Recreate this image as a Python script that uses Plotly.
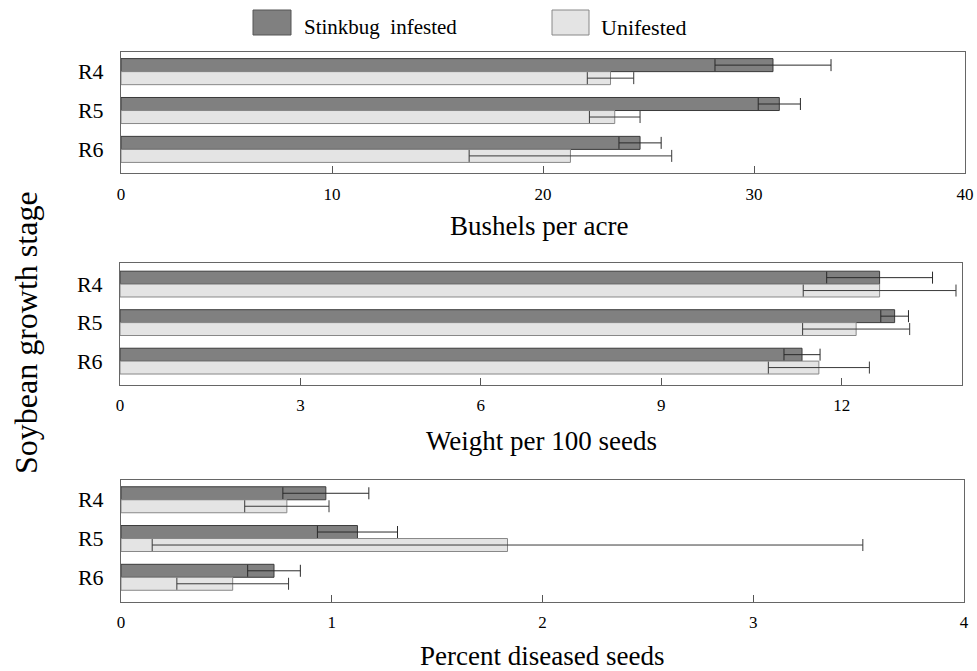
import plotly.graph_objects as go

stages = ["R4", "R5", "R6"]
series_names = ["Stinkbug  infested", "Unifested"]

bushels_infested = [30.9, 31.2, 24.6]
bushels_infested_err = [2.75, 1.0, 1.0]
bushels_uninfested = [23.2, 23.4, 21.3]
bushels_uninfested_err = [1.1, 1.2, 4.8]

weight_infested = [12.63, 12.88, 11.34]
weight_infested_err = [0.88, 0.23, 0.3]
weight_uninfested = [12.63, 12.24, 11.62]
weight_uninfested_err = [1.27, 0.89, 0.84]

diseased_infested = [0.972, 1.122, 0.726]
diseased_infested_err = [0.204, 0.19, 0.125]
diseased_uninfested = [0.787, 1.834, 0.53]
diseased_uninfested_err = [0.2, 1.686, 0.265]

panel_titles = ["Bushels per acre", "Weight per 100 seeds", "Percent diseased seeds"]
panel_ranges = [[0, 40], [0, 14], [0, 4]]
panel_ticks = [[0, 10, 20, 30, 40], [0, 3, 6, 9, 12], [0, 1, 2, 3, 4]]

DARK = "#808080"
LIGHT = "#e4e4e4"
FONT = "Liberation Serif"

panels = [
    (bushels_infested, bushels_infested_err, bushels_uninfested, bushels_uninfested_err),
    (weight_infested, weight_infested_err, weight_uninfested, weight_uninfested_err),
    (diseased_infested, diseased_infested_err, diseased_uninfested, diseased_uninfested_err),
]

W, H = 977, 671
x_doms = [[121 / W, 965 / W], [120 / W, 962 / W], [121 / W, 964 / W]]
y_doms = [
    [1 - 173.3 / H, 1 - 51.7 / H],
    [1 - 385.0 / H, 1 - 263.3 / H],
    [1 - 601.7 / H, 1 - 480.0 / H],
]
y_ranges = [[2.615, -0.513], [2.62, -0.54], [2.63, -0.51]]
title_y = [226, 441, 656]
title_x = [539, 541, 542]

fig = go.Figure()
for i, (inf, inf_err, uninf, uninf_err) in enumerate(panels):
    xa = "x" if i == 0 else f"x{i+1}"
    ya = "y" if i == 0 else f"y{i+1}"
    fig.add_trace(go.Bar(
        y=stages, x=inf, orientation="h", name=series_names[0],
        marker=dict(color=DARK, line=dict(color="#3a3a3a", width=1)),
        error_x=dict(type="data", array=inf_err, color="#2a2a2a", thickness=1, width=6),
        xaxis=xa, yaxis=ya, showlegend=False, offsetgroup="a",
    ))
    fig.add_trace(go.Bar(
        y=stages, x=uninf, orientation="h", name=series_names[1],
        marker=dict(color=LIGHT, line=dict(color="#888888", width=1)),
        error_x=dict(type="data", array=uninf_err, color="#3a3a3a", thickness=1, width=6),
        xaxis=xa, yaxis=ya, showlegend=False, offsetgroup="b",
    ))

layout = dict(
    width=W, height=H,
    margin=dict(l=0, r=0, t=0, b=0, autoexpand=False),
    paper_bgcolor="white", plot_bgcolor="white",
    barmode="group", bargap=0.33, bargroupgap=0,
    showlegend=False,
    font=dict(family=FONT, color="black"),
)
for i in range(3):
    xk = "xaxis" if i == 0 else f"xaxis{i+1}"
    yk = "yaxis" if i == 0 else f"yaxis{i+1}"
    ya = "y" if i == 0 else f"y{i+1}"
    xa = "x" if i == 0 else f"x{i+1}"
    layout[xk] = dict(
        domain=x_doms[i], anchor=ya, range=panel_ranges[i], automargin=False,
        tickvals=panel_ticks[i], ticks="inside", ticklen=7, tickcolor="#555",
        showline=True, mirror=True, linecolor="#666", linewidth=1,
        showgrid=False, zeroline=False,
        tickfont=dict(family=FONT, size=17, color="black"),
        ticklabelstandoff=5,
    )
    layout[yk] = dict(
        domain=y_doms[i], anchor=xa, range=y_ranges[i], automargin=False,
        type="category", categoryorder="array", categoryarray=stages,
        ticks="", showline=True, mirror=True, linecolor="#666", linewidth=1,
        showgrid=False, zeroline=False,
        tickfont=dict(family=FONT, size=22, color="black"),
        ticklabelstandoff=12,
    )

annotations = []
for i in range(3):
    annotations.append(dict(
        text=panel_titles[i], xref="paper", yref="paper",
        x=title_x[i] / W, y=1 - title_y[i] / H, xanchor="center", yanchor="middle",
        showarrow=False, font=dict(family=FONT, size=27, color="black"),
    ))
annotations.append(dict(
    text="Soybean growth stage", xref="paper", yref="paper",
    x=26 / W, y=1 - 333 / H, textangle=-90, xanchor="center", yanchor="middle",
    showarrow=False, font=dict(family=FONT, size=32, color="black"),
))
annotations.append(dict(
    text=series_names[0], xref="paper", yref="paper",
    x=302 / W, y=1 - 27 / H, xanchor="left", yanchor="middle",
    showarrow=False, font=dict(family=FONT, size=21, color="black"),
))
annotations.append(dict(
    text=series_names[1], xref="paper", yref="paper",
    x=599 / W, y=1 - 27 / H, xanchor="left", yanchor="middle",
    showarrow=False, font=dict(family=FONT, size=22, color="black"),
))
layout["annotations"] = annotations
layout["shapes"] = [
    dict(type="rect", xref="paper", yref="paper",
         x0=253 / W, x1=291 / W, y0=1 - 35 / H, y1=1 - 10 / H,
         fillcolor=DARK, line=dict(color="#555", width=1)),
    dict(type="rect", xref="paper", yref="paper",
         x0=552 / W, x1=589 / W, y0=1 - 35 / H, y1=1 - 10 / H,
         fillcolor=LIGHT, line=dict(color="#888", width=1)),
]
fig.update_layout(**layout)
fig.write_html("out.html", config={"displayModeBar": False},
               post_script="document.body.style.margin='0';")
